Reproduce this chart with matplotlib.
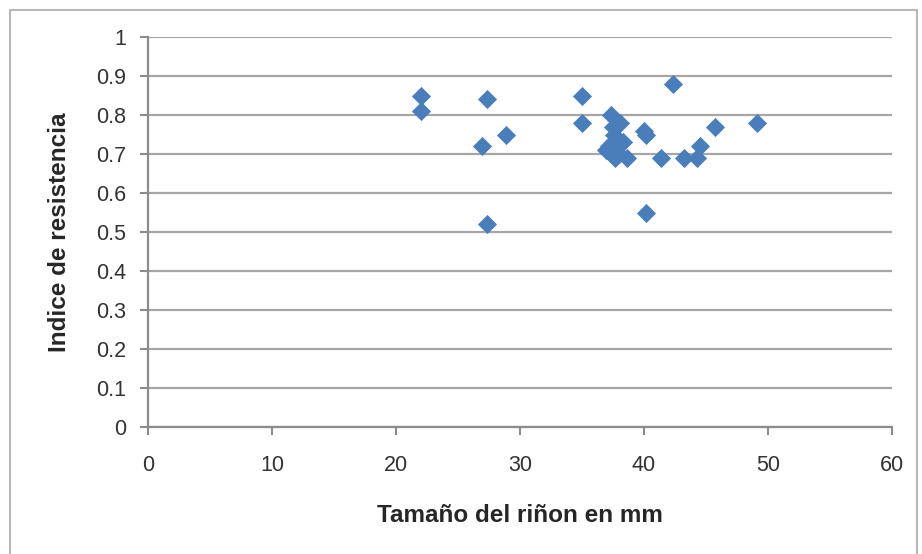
import matplotlib.pyplot as plt
from matplotlib.patches import Rectangle

# Datos (tamaño del riñon en mm, indice de resistencia)
tamano = [22.0, 22.0, 27.3, 26.9, 28.9, 27.3, 35.0, 35.0,
          37.3, 37.5, 37.6, 38.1, 36.9, 37.2, 37.7, 38.3, 38.6, 38.0,
          40.0, 40.2, 40.2, 41.4, 42.3, 43.2, 44.3, 44.5, 45.7, 49.1]
indice = [0.85, 0.81, 0.84, 0.72, 0.75, 0.52, 0.85, 0.78,
          0.80, 0.77, 0.75, 0.78, 0.71, 0.72, 0.69, 0.73, 0.69, 0.70,
          0.76, 0.75, 0.55, 0.69, 0.88, 0.69, 0.69, 0.72, 0.77, 0.78]

x_ticks = [0, 10, 20, 30, 40, 50, 60]
y_ticks = [0, 0.1, 0.2, 0.3, 0.4, 0.5, 0.6, 0.7, 0.8, 0.9, 1]
y_labels = ['0', '0.1', '0.2', '0.3', '0.4', '0.5', '0.6', '0.7', '0.8', '0.9', '1']

plt.rcParams['font.family'] = ['Liberation Sans', 'DejaVu Sans']

fig = plt.figure(figsize=(9.22, 5.54), dpi=100)
ax = fig.add_axes([0.1605, 0.2292, 0.8070, 0.7040])

# marco exterior del grafico
fig.patches.append(Rectangle((0.011, -0.05), 0.984, 1.032, transform=fig.transFigure,
                             fill=False, edgecolor='#b8b8b8', linewidth=1.5))

ax.scatter(tamano, indice, marker='D', s=95, color='#4a7ebb', zorder=3, linewidths=0)

ax.set_xlim(0, 60)
ax.set_ylim(0, 1)
ax.set_xticks(x_ticks)
ax.set_yticks(y_ticks)
ax.set_yticklabels(y_labels)

ax.grid(axis='y', color='#a6a6a6', linewidth=1.6)
ax.set_axisbelow(True)
for lado in ['top', 'right']:
    ax.spines[lado].set_visible(False)
for lado in ['left', 'bottom']:
    ax.spines[lado].set_color('#8c8c8c')
    ax.spines[lado].set_linewidth(1.6)
ax.tick_params(axis='both', direction='out', length=6, width=1.5, color='#8c8c8c',
               labelsize=15.5, labelcolor='#333333')
ax.tick_params(axis='x', pad=14)
ax.tick_params(axis='y', pad=9.5)

# titulos de los ejes
fig.text(0.5640, 1 - 522 / 554, 'Tamaño del riñon en mm', fontsize=17.5, fontweight='bold',
         ha='center', va='baseline', color='#262626')
fig.text(66 / 922, 1 - 232 / 554, 'Indice de resistencia', fontsize=17.5, fontweight='bold',
         rotation=90, rotation_mode='anchor', ha='center', va='baseline', color='#262626')

fig.savefig('out.png', dpi=100, facecolor='white')
